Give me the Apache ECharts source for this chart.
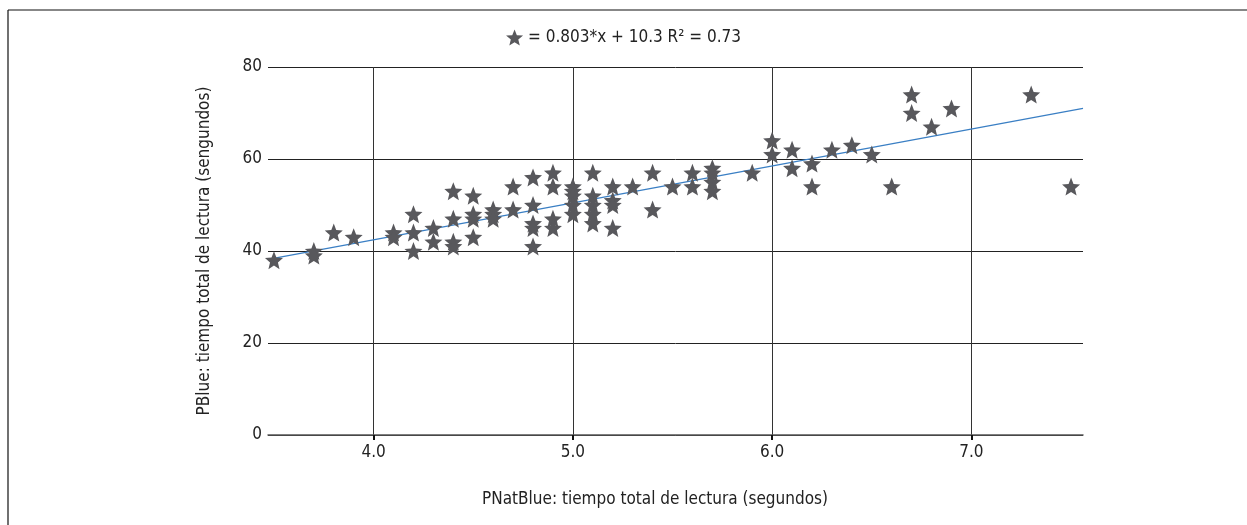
<!DOCTYPE html>
<html>
<head>
<meta charset="utf-8">
<script src="https://cdn.jsdelivr.net/npm/echarts@6/dist/echarts.min.js"></script>
<style>
  html, body { margin: 0; padding: 0; background: #fff; }
  #main { width: 1247px; height: 525px; }
</style>
</head>
<body>
<div id="main"></div>
<script>
// datos
var puntosX = [3.5, 3.7, 3.7, 3.8, 3.9, 4.1, 4.1, 4.2, 4.2, 4.2, 4.3, 4.3,
  4.4, 4.4, 4.4, 4.4, 4.5, 4.5, 4.5, 4.5, 4.6, 4.6, 4.6, 4.7, 4.7,
  4.8, 4.8, 4.8, 4.8, 4.8, 4.9, 4.9, 4.9, 4.9, 5.0, 5.0, 5.0, 5.0, 5.0,
  5.1, 5.1, 5.1, 5.1, 5.1, 5.2, 5.2, 5.2, 5.2, 5.3, 5.4, 5.4, 5.5, 5.6, 5.6,
  5.7, 5.7, 5.7, 5.7, 5.9, 6.0, 6.0, 6.1, 6.1, 6.2, 6.2, 6.3, 6.4, 6.5, 6.6,
  6.7, 6.7, 6.8, 6.9, 7.3, 7.5];
var puntosY = [38, 40, 39, 44, 43, 44, 43, 48, 44, 40, 45, 42,
  53, 47, 42, 41, 52, 48, 47, 43, 49, 48, 47, 54, 49,
  56, 50, 46, 45, 41, 57, 54, 47, 45, 54, 53, 52, 50, 48,
  57, 52, 50, 48, 46, 54, 51, 50, 45, 54, 57, 49, 54, 57, 54,
  58, 57, 55, 53, 57, 64, 61, 62, 58, 59, 54, 62, 63, 61, 54,
  74, 70, 67, 71, 74, 54];
var ticksX = [4, 5, 6, 7];
var ticksY = [0, 20, 40, 60, 80];
var pendiente = 8.03;
var intercepto = 10.3;
var leyenda = '= 0.803*x + 10.3 R\u00b2 = 0.73';

var xMin = 3.47, xMax = 7.56;
var fuente = '"Liberation Sans Narrow", "DejaVu Sans Condensed", sans-serif';
// estrella de cinco puntas algo gruesa
var estrella = 'path://M50,2 L62.9,34.2 L97.6,36.6 L70.9,58.8 L79.4,92.5 L50,74 L20.6,92.5 L29.1,58.8 L2.4,36.6 L37.1,34.2 Z';

var datos = puntosX.map(function (x, i) { return [x, puntosY[i]]; });
var tendencia = [xMin, xMax].map(function (x) { return [x, pendiente * x + intercepto]; });

var chart = echarts.init(document.getElementById('main'));
var option = {
  backgroundColor: '#fff',
  textStyle: { fontFamily: fuente },
  animation: false,
  grid: { left: 268, right: 164, top: 67, bottom: 90 },
  legend: {
    top: 24,
    left: 'center',
    itemWidth: 17,
    itemHeight: 17,
    itemGap: 6,
    data: [{ name: leyenda, icon: estrella, itemStyle: { color: '#58585c', opacity: 1 } }],
    textStyle: { fontFamily: fuente, fontSize: 17, color: '#222' }
  },
  graphic: [
    { type: 'line', shape: { x1: 8, y1: 10, x2: 1247, y2: 10 }, style: { stroke: '#111', lineWidth: 1.2 } },
    { type: 'line', shape: { x1: 8, y1: 10, x2: 8, y2: 525 }, style: { stroke: '#111', lineWidth: 1.2 } },
    {
      type: 'text', x: 655, y: 491,
      style: {
        text: 'PNatBlue: tiempo total de lectura (segundos)',
        textAlign: 'center', fill: '#222', fontSize: 17, fontFamily: fuente
      }
    }
  ],
  xAxis: {
    type: 'value',
    min: xMin,
    max: xMax,
    axisLine: { show: true, lineStyle: { color: '#555', width: 1.5 } },
    axisTick: { show: true, customValues: ticksX, length: 5, lineStyle: { color: '#111', width: 2 } },
    axisLabel: {
      customValues: ticksX, margin: 9, fontSize: 17, color: '#222', fontFamily: fuente,
      formatter: function (v) { return v.toFixed(1); }
    },
    splitLine: { show: true, lineStyle: { color: '#333', width: 1 } }
  },
  yAxis: {
    type: 'value',
    min: 0,
    max: 80,
    interval: 20,
    name: 'PBlue: tiempo total de lectura (sengundos)',
    nameLocation: 'middle',
    nameGap: 55,
    nameTextStyle: { fontSize: 17, color: '#222', fontFamily: fuente },
    axisLine: { show: false },
    axisTick: { show: false },
    axisLabel: {
      margin: 6, fontSize: 17, color: '#222', fontFamily: fuente,
      formatter: function (v) { return ticksY.indexOf(v) >= 0 ? String(v) : ''; }
    },
    splitLine: { show: true, lineStyle: { color: '#222', width: 1 } }
  },
  series: [
    {
      name: 'tendencia',
      type: 'line',
      data: tendencia,
      showSymbol: false,
      silent: true,
      lineStyle: { color: '#3a7fc4', width: 1.3 },
      z: 2
    },
    {
      name: leyenda,
      type: 'scatter',
      data: datos,
      symbol: estrella,
      symbolSize: 18,
      itemStyle: { color: '#58585c', opacity: 1 },
      z: 3
    }
  ]
};
chart.setOption(option);
</script>
</body>
</html>
